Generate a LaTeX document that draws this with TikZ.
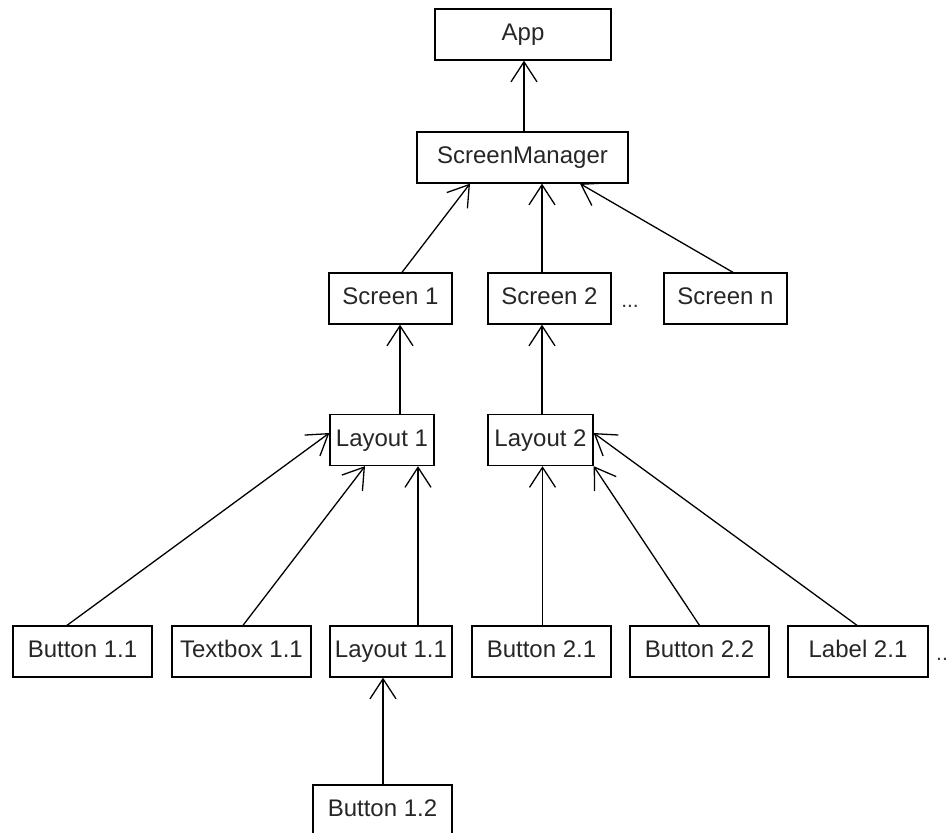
\documentclass[tikz,border=0pt]{standalone}
\usepackage{fontspec}
\setmainfont{Liberation Sans}
\usetikzlibrary{arrows.meta}

\begin{document}
\begin{tikzpicture}[x=1bp, y=-1bp,
  widget/.style={draw, line width=1.3bp, minimum height=51bp, inner sep=2bp,
                 text height=17.5bp, text depth=5bp, text=black!85,
                 font=\fontsize{24bp}{28bp}\selectfont},
  more/.style={inner sep=0pt, text height=17.5bp, text depth=5bp, text=black!80,
               font=\fontsize{21bp}{26bp}\selectfont},
  owns/.style={-{Straight Barb[length=20bp, width=26bp, line width=1.3bp]}, line width=1.3bp},
]
\useasboundingbox (0,0) rectangle (949,833);

% Top of the tree
\node[widget, minimum width=176bp] (app) at (523, 34.5) {App};
\node[widget, minimum width=211bp] (mgr) at (522.5, 157.5) {ScreenManager};

% Screens
\node[widget, minimum width=123bp] (scr1) at (390.5, 298.5) {Screen 1};
\node[widget, minimum width=123bp] (scr2) at (549.5, 298.5) {Screen 2};
\node[more] (dots1) at (630, 301) {...};
\node[widget, minimum width=123bp] (scrn) at (725.5, 298.5) {Screen n};

% Layouts
\node[widget, minimum width=104bp] (lay1) at (382, 440) {Layout 1};
\node[widget, minimum width=105bp] (lay2) at (540.5, 440) {Layout 2};

% Widgets
\node[widget, minimum width=139bp] (btn11) at (82.5, 651.5) {Button 1.1};
\node[widget, minimum width=139bp] (txt11) at (241.5, 651.5) {Textbox 1.1};
\node[widget, minimum width=122bp] (lay11) at (391, 651.5) {Layout 1.1};
\node[widget, minimum width=139bp] (btn21) at (541.5, 651.5) {Button 2.1};
\node[widget, minimum width=139bp] (btn22) at (699.5, 651.5) {Button 2.2};
\node[widget, minimum width=140bp] (lbl21) at (858, 651.5) {Label 2.1};
\node[more, anchor=west] (dots2) at (936, 654) {..};
\node[widget, minimum width=139bp] (btn12) at (382.5, 810.5) {Button 1.2};

% Connectors
\draw[owns] (mgr.north) ++(1.5bp,0) coordinate (m0) -- (m0 |- app.south);
\draw[owns] ([xshift=11.5bp]scr1.north) -- ([xshift=-52.5bp]mgr.south);
\draw[owns] ([xshift=-7.5bp]scr2.north) -- ([xshift=-7.5bp]scr2.north |- mgr.south);
\draw[owns] ([xshift=7.5bp]scrn.north) -- ([xshift=57.5bp]mgr.south);
\draw[owns] ([xshift=18bp]lay1.north) -- ([xshift=18bp]lay1.north |- scr1.south);
\draw[owns] ([xshift=1.5bp]lay2.north) -- ([xshift=1.5bp]lay2.north |- scr2.south);
\draw[owns] ([xshift=-15.5bp]btn11.north) -- ([yshift=7bp]lay1.west);
\draw[owns] ([xshift=1.5bp]txt11.north) -- ([xshift=-17bp]lay1.south);
\draw[owns] ([xshift=27bp]lay11.north) -- ([xshift=27bp]lay11.north |- lay1.south);
\draw[owns] ([xshift=1bp]btn21.north) -- ([xshift=1bp]btn21.north |- lay2.south);
\draw[owns] (btn22.north) -- (lay2.south east);
\draw[owns] ([xshift=-1bp]lbl21.north) -- ([yshift=7bp]lay2.east);
\draw[owns] ([xshift=0.5bp]btn12.north) -- ([xshift=0.5bp]btn12.north |- lay11.south);
\end{tikzpicture}
\end{document}
